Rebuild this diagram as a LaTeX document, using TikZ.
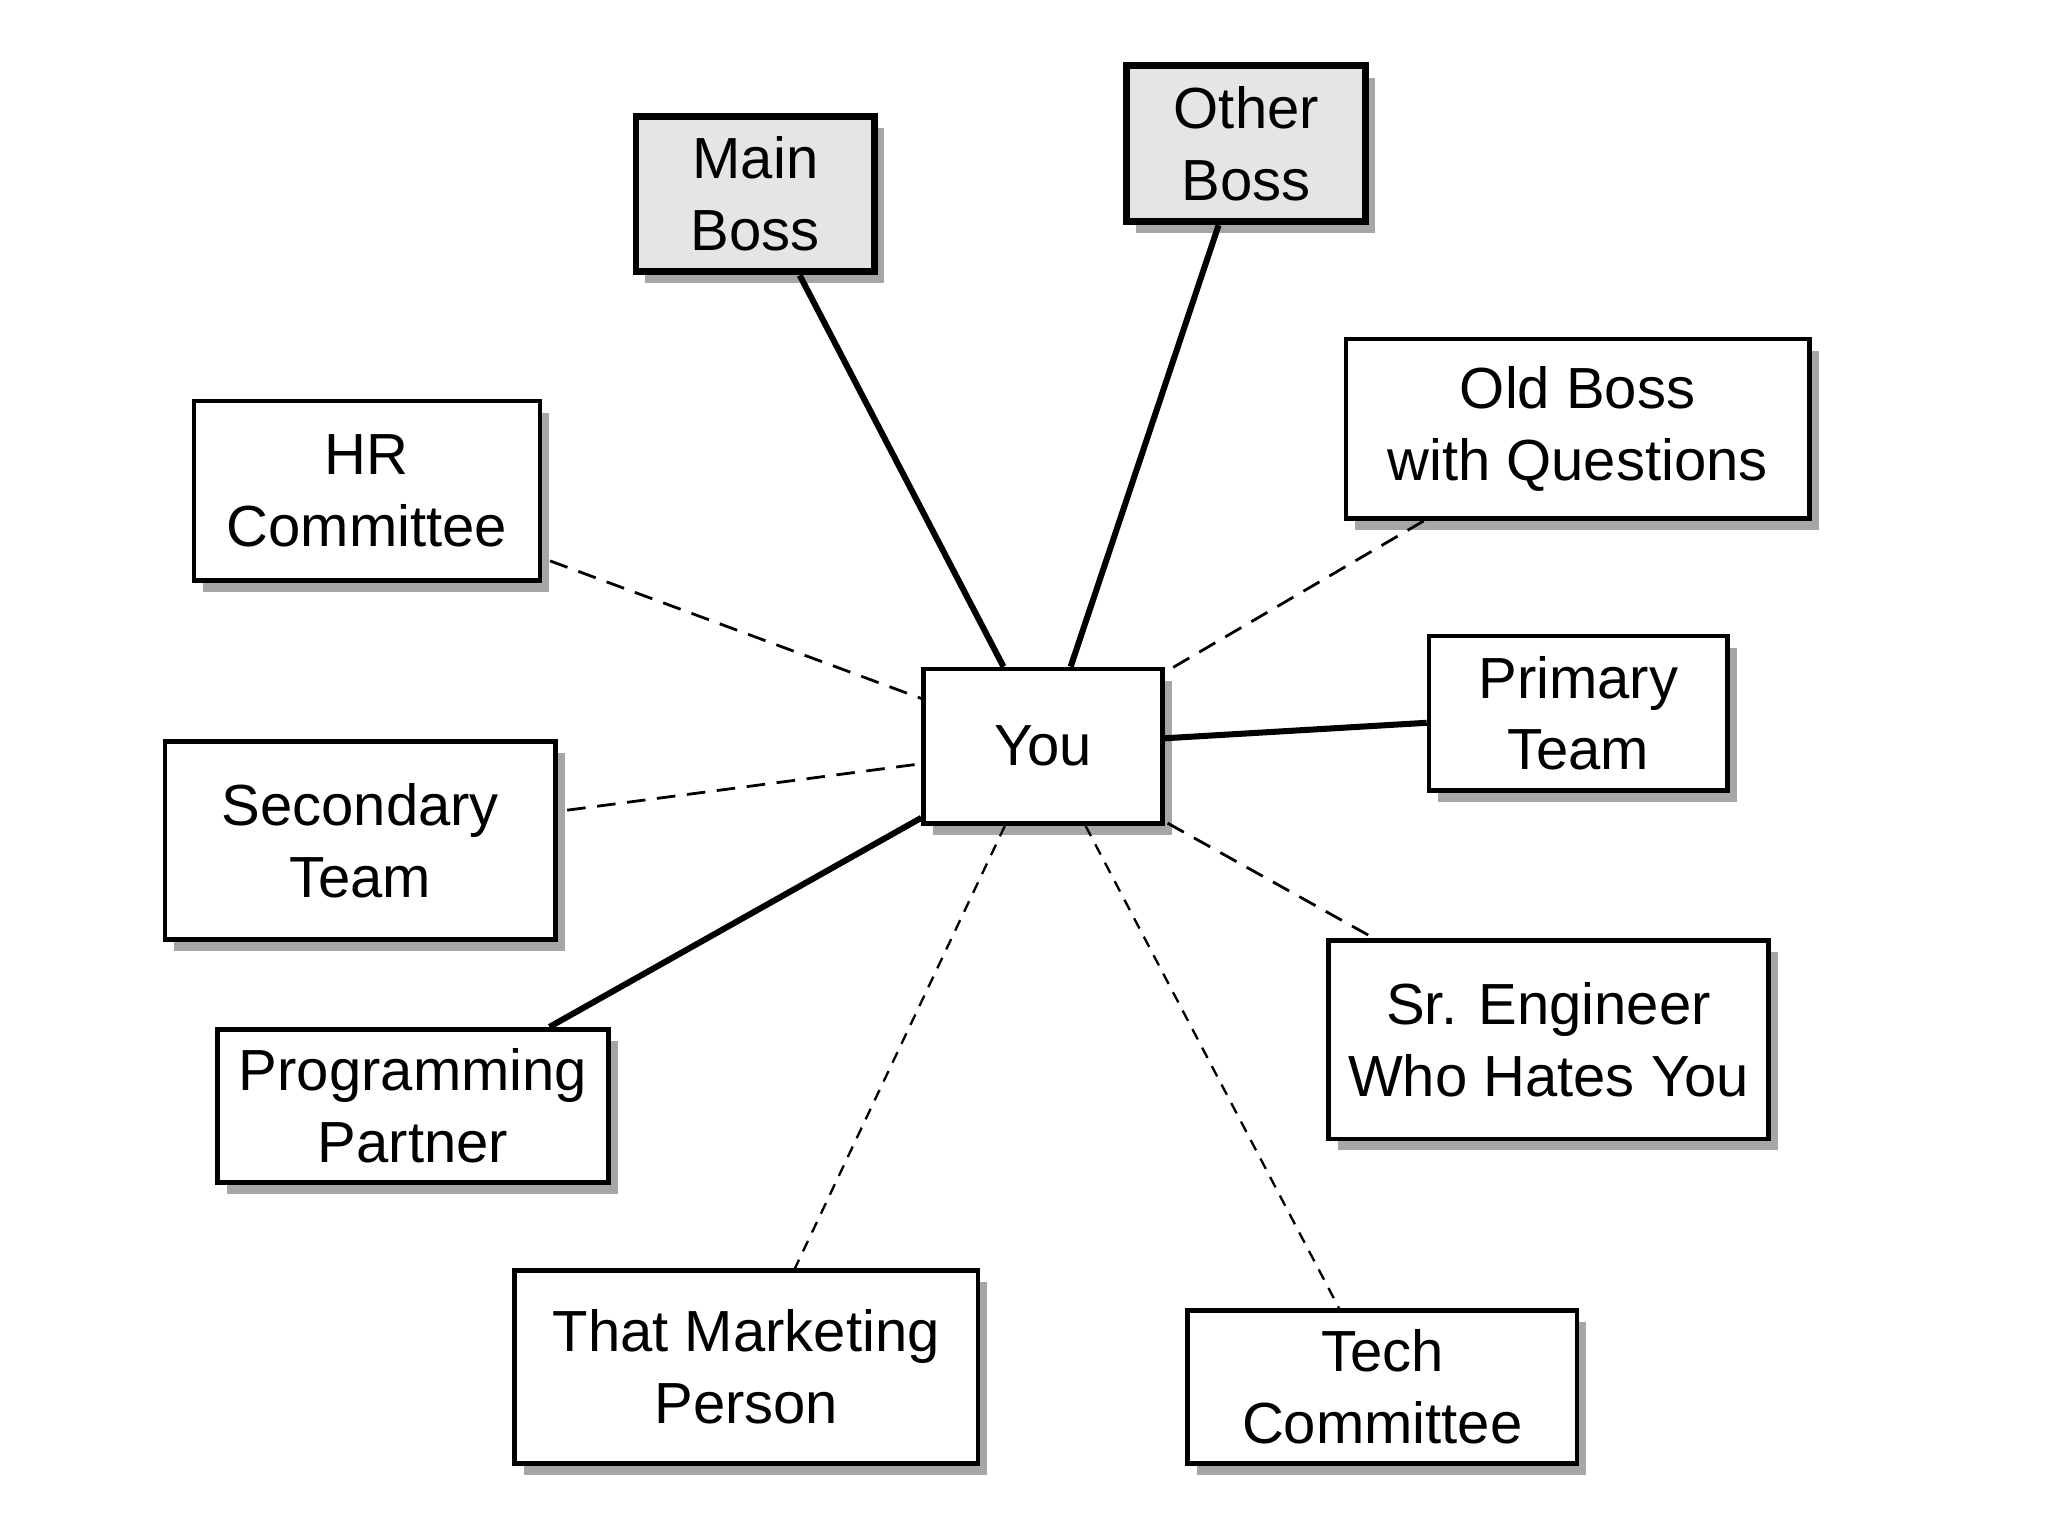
\documentclass[tikz,border=0pt]{standalone}
\usepackage{fontspec}
\setmainfont{Liberation Sans}
\usetikzlibrary{calc,shadows}
\begin{document}
\begin{tikzpicture}[x=0.01cm,y=-0.01cm,
  box/.style={draw=black,line width=1pt,fill=white,inner sep=0pt,align=center,
    font=\fontsize{12.5}{15.5}\selectfont,
    drop shadow={shadow xshift=2pt,shadow yshift=-2.5pt,opacity=0.35,fill=black}},
  boss/.style={box,fill=black!10,line width=1.5pt},
  strong/.style={line width=1.3pt},
  weak/.style={line width=0.6pt,dash pattern=on 4pt off 2.5pt},
  faint/.style={line width=0.5pt,dash pattern=on 2.5pt off 2pt}]
\useasboundingbox (0,0) rectangle (1552,1164);
\node[boss,minimum width=1.81cm,minimum height=1.18cm] (mb) at (572.5,147) {Main\\Boss};
\node[boss,minimum width=1.81cm,minimum height=1.18cm] (ob) at (944.5,109) {Other\\Boss};
\node[box,minimum width=3.51cm,minimum height=1.36cm] (old) at (1195.5,325) {Old Boss\\with Questions};
\node[box,minimum width=2.62cm,minimum height=1.36cm] (hr) at (278,372) {HR\\Committee};
\node[box,minimum width=1.81cm,minimum height=1.17cm] (you) at (790.5,565.5) {You};
\node[box,minimum width=2.26cm,minimum height=1.17cm] (pt) at (1196,540.5) {Primary\\Team};
\node[box,minimum width=2.96cm,minimum height=1.50cm] (st) at (273,637) {Secondary\\Team};
\node[box,minimum width=2.96cm,minimum height=1.16cm] (pp) at (313,838) {Programming\\Partner};
\node[box,minimum width=3.33cm,minimum height=1.50cm] (se) at (1173.5,788) {Sr. Engineer\\Who Hates You};
\node[box,minimum width=3.51cm,minimum height=1.46cm] (mk) at (565.5,1036) {That Marketing\\Person};
\node[box,minimum width=2.95cm,minimum height=1.16cm] (tc) at (1047.5,1051) {Tech\\Committee};
\draw[strong] ($(mb.south west)!0.68!(mb.south east)$) -- ($(you.north west)!0.337!(you.north east)$);
\draw[strong] ($(ob.south west)!0.387!(ob.south east)$) -- ($(you.north west)!0.613!(you.north east)$);
\draw[weak] ($(old.south west)!0.171!(old.south east)$) -- ($(you.north east)+(2,3)$);
\draw[weak] ($(hr.north east)!0.88!(hr.south east)+(6,0)$) -- ($(you.north west)!0.2!(you.south west)$);
\draw[strong] ($(you.north east)!0.45!(you.south east)$) -- ($(pt.north west)!0.56!(pt.south west)$);
\draw[weak] ($(st.north east)!0.35!(st.south east)+(7,0)$) -- ($(you.north west)!0.61!(you.south west)$);
\draw[strong] ($(pp.north west)!0.845!(pp.north east)$) -- ($(you.north west)!0.95!(you.south west)$);
\draw[weak] ($(you.south east)+(2,-2)$) -- ($(se.north west)!0.108!(se.north east)$);
\draw[faint] ($(you.south west)!0.343!(you.south east)$) -- ($(mk.north west)!0.604!(mk.north east)$);
\draw[faint] ($(you.south west)!0.674!(you.south east)$) -- ($(tc.north west)!0.39!(tc.north east)$);
\end{tikzpicture}
\end{document}
